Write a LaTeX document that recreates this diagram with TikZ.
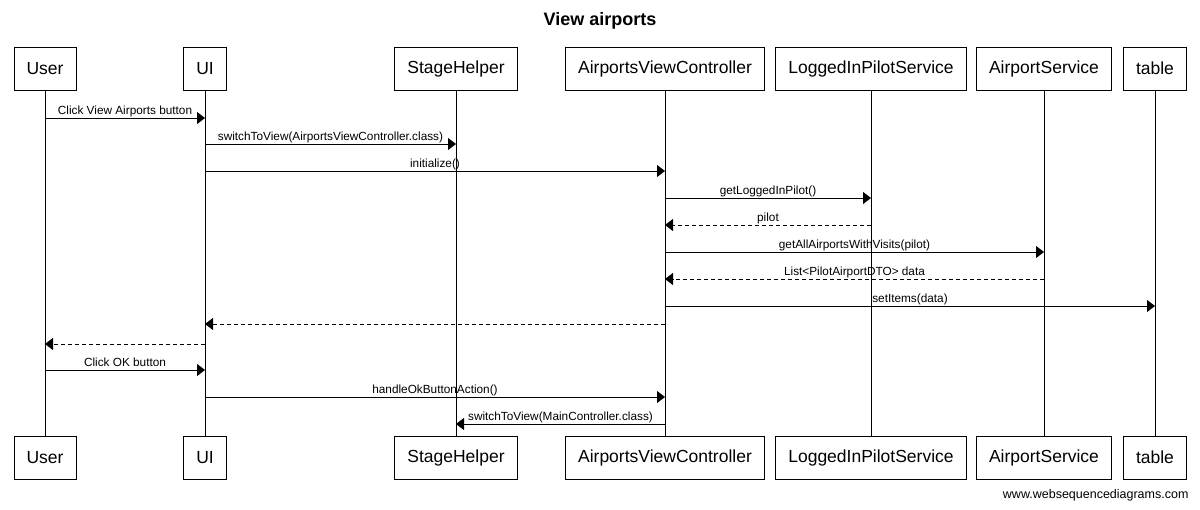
\documentclass[tikz,border=0pt]{standalone}
\usepackage{fontspec}
\setmainfont{Liberation Sans}
\usetikzlibrary{arrows.meta}

\begin{document}
\begin{tikzpicture}[x=1pt,y=-1pt,
    every node/.style={font=\fontsize{17.5}{20}\selectfont},
    actor/.style={draw, line width=0.8pt, minimum height=43pt, inner xsep=12.5pt},
    life/.style={line width=0.8pt},
    call/.style={line width=0.8pt, -{Triangle[length=8pt,width=12pt]}},
    reply/.style={call, dash pattern=on 4pt off 3pt},
    msg/.style={font=\fontsize{11.8}{13}\selectfont, anchor=base, yshift=4pt, inner sep=0pt},
    ]
    \useasboundingbox (0,0) rectangle (1200,509);

    \node[font=\bfseries\fontsize{18}{20}\selectfont] (title) at (600,21) {View airports};

    % participants, top row
    \node[actor] (user) at (45,68.5) {User};
    \node[actor] (ui) at (205,68.5) {UI};
    \node[actor] (stage) at (456,68.5) {StageHelper};
    \node[actor] (avc) at (665,68.5) {AirportsViewController};
    \node[actor] (pilotsrv) at (871,68.5) {LoggedInPilotService};
    \node[actor] (airportsrv) at (1044,68.5) {AirportService};
    \node[actor] (table) at (1155,68.5) {table};

    % participants, bottom row
    \node[actor] (userEnd) at (45,457.5) {User};
    \node[actor] (uiEnd) at (205,457.5) {UI};
    \node[actor] (stageEnd) at (456,457.5) {StageHelper};
    \node[actor] (avcEnd) at (665,457.5) {AirportsViewController};
    \node[actor] (pilotsrvEnd) at (871,457.5) {LoggedInPilotService};
    \node[actor] (airportsrvEnd) at (1044,457.5) {AirportService};
    \node[actor] (tableEnd) at (1155,457.5) {table};

    % lifelines
    \draw[life] (user) -- (userEnd);
    \draw[life] (ui) -- (uiEnd);
    \draw[life] (stage) -- (stageEnd);
    \draw[life] (avc) -- (avcEnd);
    \draw[life] (pilotsrv) -- (pilotsrvEnd);
    \draw[life] (airportsrv) -- (airportsrvEnd);
    \draw[life] (table) -- (tableEnd);

    % message rows
    \coordinate (r1) at (0,118);
    \coordinate (r2) at (0,144);
    \coordinate (r3) at (0,171);
    \coordinate (r4) at (0,198);
    \coordinate (r5) at (0,225);
    \coordinate (r6) at (0,252);
    \coordinate (r7) at (0,279);
    \coordinate (r8) at (0,306);
    \coordinate (r9) at (0,324);
    \coordinate (r10) at (0,344);
    \coordinate (r11) at (0,370);
    \coordinate (r12) at (0,397);
    \coordinate (r13) at (0,424);

    \draw[call] (user |- r1) -- node[msg] {Click View Airports button} (ui |- r1);
    \draw[call] (ui |- r2) -- node[msg] {switchToView(AirportsViewController.class)} (stage |- r2);
    \draw[call] (ui |- r3) -- node[msg] {initialize()} (avc |- r3);
    \draw[call] (avc |- r4) -- node[msg] {getLoggedInPilot()} (pilotsrv |- r4);
    \draw[reply] (pilotsrv |- r5) -- node[msg] {pilot} (avc |- r5);
    \draw[call] (avc |- r6) -- node[msg] {getAllAirportsWithVisits(pilot)} (airportsrv |- r6);
    \draw[reply] (airportsrv |- r7) -- node[msg] {List<PilotAirportDTO> data} (avc |- r7);
    \draw[call] (avc |- r8) -- node[msg] {setItems(data)} (table |- r8);
    \draw[reply] (avc |- r9) -- (ui |- r9);
    \draw[reply] (ui |- r10) -- (user |- r10);
    \draw[call] (user |- r11) -- node[msg] {Click OK button} (ui |- r11);
    \draw[call] (ui |- r12) -- node[msg] {handleOkButtonAction()} (avc |- r12);
    \draw[call] (avc |- r13) -- node[msg] {switchToView(MainController.class)} (stage |- r13);

    \node[anchor=east, font=\fontsize{12.5}{14}\selectfont] (credit) at (1192,495) {www.websequencediagrams.com};
\end{tikzpicture}
\end{document}
